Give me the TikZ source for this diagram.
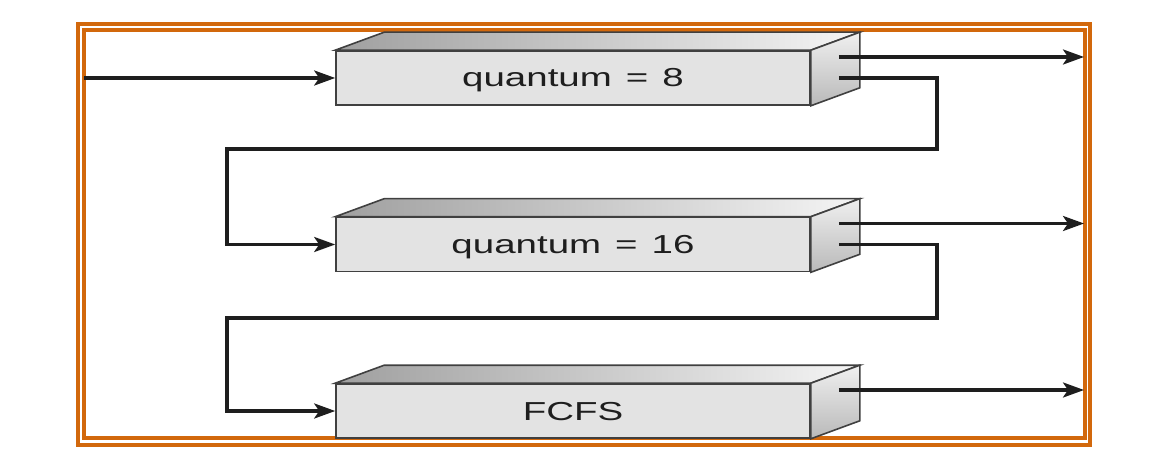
\documentclass[tikz,border=0pt]{standalone}
\usepackage{fontspec}
\setmainfont{Liberation Sans}
\newfontfamily\boxfont[FakeStretch=1.48]{Liberation Sans}
\usetikzlibrary{calc,arrows.meta}
\definecolor{frameorange}{RGB}{210,104,12}
\definecolor{ink}{RGB}{30,30,30}
\newcommand{\eqsep}{\hspace{14pt}=\hspace{14pt}}
\tikzset{
  front/.style={draw=ink!85, line width=1.6pt, fill=gray!22, minimum width=474pt,
    minimum height=54pt, inner sep=0pt, text height=22pt, text depth=4pt,
    font=\boxfont\fontsize{26}{30}\selectfont, text=ink},
  topface/.style={draw=ink!85, line width=1.6pt, left color=gray!75, right color=gray!8},
  sideface/.style={draw=ink!85, line width=1.6pt, top color=gray!12, bottom color=gray!55},
  conn/.style={draw=ink, line width=3.2pt},
  arr/.style={conn, -{Stealth[length=21pt,width=15pt,inset=5pt]}},
  frame/.style={draw=frameorange, line width=3.2pt},
}
\begin{document}
\begin{tikzpicture}[x=1pt,y=-1pt]
\useasboundingbox (0,0) rectangle (1150,470);
% frame
\draw[frame] (78,24) rectangle (1090,445);
\draw[frame] (84,30) rectangle (1085,438);
% boxes
\node[front] (b1) at (573,78) {quantum\eqsep{}8};
\node[front] (b2) at (573,244.5) {quantum\eqsep{}16};
\node[front] (b3) at (573,411) {FCFS};
\foreach \b in {b1,b2,b3}{
  \draw[topface] (\b.north west) -- ++(49,-18) -- ($(\b.north east)+(49,-18)$) -- (\b.north east) -- cycle;
  \draw[sideface] (\b.north east) -- ++(49,-18) -- ($(\b.south east)+(49,-18)$) -- (\b.south east) -- cycle;
}
% coordinates
\coordinate (in) at (84,78);
\coordinate (b1hi) at ($(b1.east)+(28,-21)$);
\coordinate (b1lo) at ($(b1.east)+(28,0)$);
\coordinate (b2hi) at ($(b2.east)+(28,-21)$);
\coordinate (b2lo) at ($(b2.east)+(28,0)$);
\coordinate (b3hi) at ($(b3.east)+(28,-21)$);
\coordinate (o1) at (1084,57);
\coordinate (o2) at (1084,223.5);
\coordinate (o3) at (1084,390);
\coordinate (k1) at (937,149);
\coordinate (k2) at (227,149);
\coordinate (k3) at (937,318);
\coordinate (k4) at (227,318);
% connectors
\draw[arr] (in) -- (b1.west);
\draw[arr] (b1hi) -- (o1);
\draw[arr] (b2hi) -- (o2);
\draw[arr] (b3hi) -- (o3);
\draw[arr] (b1lo) -| (k1) -- (k2) |- (b2.west);
\draw[arr] (b2lo) -| (k3) -- (k4) |- (b3.west);
\end{tikzpicture}
\end{document}
